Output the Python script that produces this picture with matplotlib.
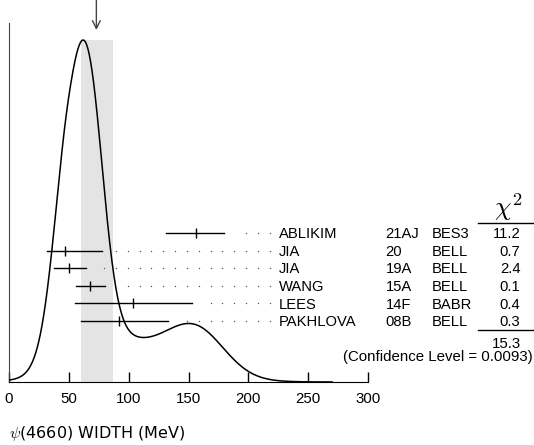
import numpy as np
import matplotlib
matplotlib.use('Agg')
import matplotlib.pyplot as plt
from matplotlib.lines import Line2D

# -----------------------------
# Datos: medidas de la anchura de psi(4660) (MeV)
# -----------------------------
autores = ['ABLIKIM', 'JIA', 'JIA', 'WANG', 'LEES', 'PAKHLOVA']
refs = ['21AJ', '20', '19A', '15A', '14F', '08B']
exps = ['BES3', 'BELL', 'BELL', 'BELL', 'BABR', 'BELL']
valor = [156, 47, 50, 68, 104, 92]
err_menos = [25, 15, 12, 12, 49, 32]
err_mas = [24, 31, 14, 12, 49, 41]
chi2 = ['11.2', '0.7', '2.4', '0.1', '0.4', '0.3']
chi2_total = '15.3'
conf_level = '0.0093'

media = 73          # valor medio (flecha)
banda = [60, 87]    # banda sombreada
xticks = [0, 50, 100, 150, 200, 250, 300]

W, H = 534, 445
plt.rcParams['font.family'] = ['Liberation Sans', 'DejaVu Sans']

fig = plt.figure(figsize=(W/100, H/100), dpi=100)

# ejes en pixeles: x=0 en px 9, x=300 en px 368; base en y=382, tope en y=23
x0, x1, yb, yt = 9, 368, 382, 23
ax = fig.add_axes([x0/W, (H-yb)/H, (x1-x0)/W, (yb-yt)/H])

def fx(px):
    return px / W

def fy(py):
    return 1 - py / H

def frac(py):
    # fraccion de eje a partir del pixel vertical
    return (yb - py) / (yb - yt)

# -----------------------------
# Ideograma: suma de gaussianas (una por medida)
# -----------------------------
t = np.linspace(0, 270, 1500)
curva = np.zeros_like(t)
for v, em, ep in zip(valor, err_menos, err_mas):
    s = np.where(t < v, em, ep)
    sm = 0.5 * (em + ep)
    curva += np.exp(-0.5 * ((t - v) / s)**2) / sm**2
pico = curva.max()
ymax = pico / frac(40)

ax.axvspan(banda[0], banda[1], ymin=0, ymax=frac(40), color='#e4e4e4', lw=0, zorder=0)
ax.plot(t, curva, color='black', lw=1.1, zorder=3)
ax.set_xlim(0, 300)
ax.set_ylim(0, ymax)

# -----------------------------
# Medidas con barras de error y puntos guia
# -----------------------------
trans = ax.get_xaxis_transform()
filas = [233 + 17.6*i for i in range(len(valor))]
for i, (v, em, ep) in enumerate(zip(valor, err_menos, err_mas)):
    yy = frac(filas[i])
    ax.plot([v - em, v + ep], [yy, yy], color='black', lw=1.0, transform=trans, zorder=4)
    ax.plot([v], [yy], marker='|', ms=7.5, mew=1.0, color='black', transform=trans, zorder=4)
    dots = np.arange(218, 0, -9.9)
    dots = dots[dots > v + ep + 10]
    ax.plot(dots, np.full_like(dots, yy), ls='none', marker='o', ms=1.0, mew=0,
            color='#555555', transform=trans, zorder=2)

    yb_txt = fy(filas[i] + 5.2)
    fig.text(fx(278.5), yb_txt, autores[i], fontsize=10.6, va='baseline', ha='left')
    fig.text(fx(385.5), yb_txt, refs[i], fontsize=10.6, va='baseline', ha='left')
    fig.text(fx(431.5), yb_txt, exps[i], fontsize=10.6, va='baseline', ha='left')
    fig.text(fx(520.5), yb_txt, chi2[i], fontsize=10.6, va='baseline', ha='right')

# cabecera chi^2 y lineas
fig.text(fx(508), fy(216), r'$\chi^2$', fontsize=19, ha='center', va='baseline',
         math_fontfamily='cm')
fig.add_artist(Line2D([fx(478), fx(533)], [fy(222.7), fy(222.7)], color='black', lw=1.0))
fig.add_artist(Line2D([fx(478), fx(533)], [fy(330), fy(330)], color='black', lw=1.0))
fig.text(fx(521), fy(348), chi2_total, fontsize=10.8, ha='right', va='baseline')
fig.text(fx(533), fy(361.5), '(Confidence Level = ' + conf_level + ')', fontsize=10.8,
         ha='right', va='baseline')

# flecha del valor medio
ax.annotate('', xy=(media, frac(30)), xytext=(media, frac(-1)), xycoords=trans,
            arrowprops=dict(arrowstyle='->', color='#444444', lw=1.0,
                            mutation_scale=14, shrinkA=0, shrinkB=0),
            annotation_clip=False)

# ejes
for lado in ['top', 'right']:
    ax.spines[lado].set_visible(False)
ax.spines['left'].set_color('#444444')
ax.spines['bottom'].set_color('black')
ax.set_yticks([])
ax.set_xticks(xticks)
ax.tick_params(axis='x', direction='in', length=7, width=1.0, pad=7, labelsize=10.8)
ax.patch.set_alpha(0)

fig.text(fx(9), fy(438), r'$\psi$(4660) WIDTH (MeV)', fontsize=11.5, ha='left',
         va='baseline', family='DejaVu Sans', math_fontfamily='cm')

fig.savefig('out.png', dpi=100)
